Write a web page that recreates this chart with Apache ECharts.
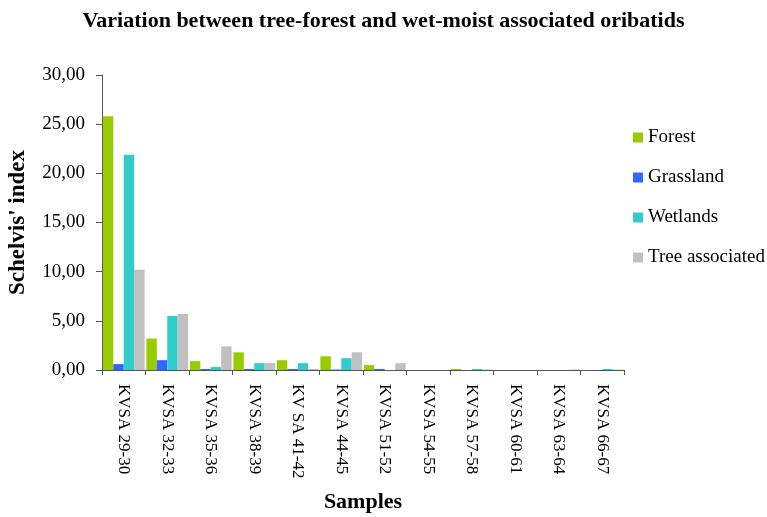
<!DOCTYPE html>
<html>
<head>
<meta charset="utf-8">
<script src="https://cdn.jsdelivr.net/npm/echarts@6/dist/echarts.min.js"></script>
<style>
  html, body { margin: 0; padding: 0; background: #ffffff; }
  #chart { width: 767px; height: 517px; }
</style>
</head>
<body>
<div id="chart"></div>
<script>
// Sample pairs along the transect
const samples = ['KVSA 29-30', 'KVSA 32-33', 'KVSA 35-36', 'KVSA 38-39', 'KV SA 41-42', 'KVSA 44-45',
                 'KVSA 51-52', 'KVSA 54-55', 'KVSA 57-58', 'KVSA 60-61', 'KVSA 63-64', 'KVSA 66-67'];

// Schelvis' index per habitat group
const forest    = [25.8, 3.2, 0.9, 1.8, 1.0, 1.4, 0.5, 0, 0.1, 0, 0, 0];
const grassland = [0.6, 1.0, 0.1, 0.1, 0.1, 0.05, 0.1, 0, 0, 0, 0, 0];
const wetlands  = [21.9, 5.5, 0.3, 0.7, 0.7, 1.2, 0, 0, 0.1, 0, 0, 0.1];
const treeAssoc = [10.2, 5.7, 2.4, 0.7, 0.1, 1.8, 0.7, 0, 0.05, 0, 0.05, 0.05];

const seriesNames = ['Forest', 'Grassland', 'Wetlands', 'Tree associated'];
const seriesData = [forest, grassland, wetlands, treeAssoc];
const seriesColors = ['#99cc00', '#3366ff', '#33cccc', '#c0c0c0'];

const serif = '"Liberation Serif", "DejaVu Serif", serif';

const chart = echarts.init(document.getElementById('chart'));
chart.setOption({
  animation: false,
  backgroundColor: '#ffffff',
  title: {
    text: 'Variation between tree-forest and wet-moist associated oribatids',
    left: 'center',
    top: 5,
    textStyle: { fontFamily: serif, fontSize: 22, fontWeight: 'bold', color: '#000' }
  },
  legend: {
    orient: 'vertical',
    left: 628,
    top: 123,
    itemWidth: 10,
    itemHeight: 10,
    itemGap: 21,
    icon: 'rect',
    textStyle: { fontFamily: serif, fontSize: 19, color: '#000' },
    data: seriesNames
  },
  grid: { left: 102, top: 75, right: 143, bottom: 147, containLabel: false, outerBoundsMode: 'none' },
  xAxis: {
    type: 'category',
    data: samples,
    name: 'Samples',
    nameLocation: 'middle',
    nameGap: 121,
    nameTextStyle: { fontFamily: serif, fontSize: 22, fontWeight: 'bold', color: '#000' },
    axisLine: { lineStyle: { color: '#555', width: 1 } },
    axisTick: { show: true, length: 5, lineStyle: { color: '#555' } },
    axisLabel: {
      rotate: -90,
      margin: 14,
      fontFamily: serif,
      fontSize: 17,
      color: '#000'
    }
  },
  yAxis: {
    type: 'value',
    min: 0,
    max: 30,
    interval: 5,
    name: "Schelvis' index",
    nameLocation: 'middle',
    nameGap: 72,
    nameTextStyle: { fontFamily: serif, fontSize: 23, fontWeight: 'bold', color: '#000' },
    axisLine: { show: true, lineStyle: { color: '#555', width: 1 } },
    axisTick: { show: true, length: 6, lineStyle: { color: '#555' } },
    splitLine: { show: false },
    axisLabel: {
      margin: 17,
      fontFamily: serif,
      fontSize: 19,
      color: '#000',
      formatter: v => v.toFixed(2).replace('.', ',')
    }
  },
  series: seriesNames.map((name, i) => ({
    name: name,
    type: 'bar',
    data: seriesData[i],
    barGap: '0%',
    barCategoryGap: '4%',
    itemStyle: { color: seriesColors[i] }
  }))
});
</script>
</body>
</html>
